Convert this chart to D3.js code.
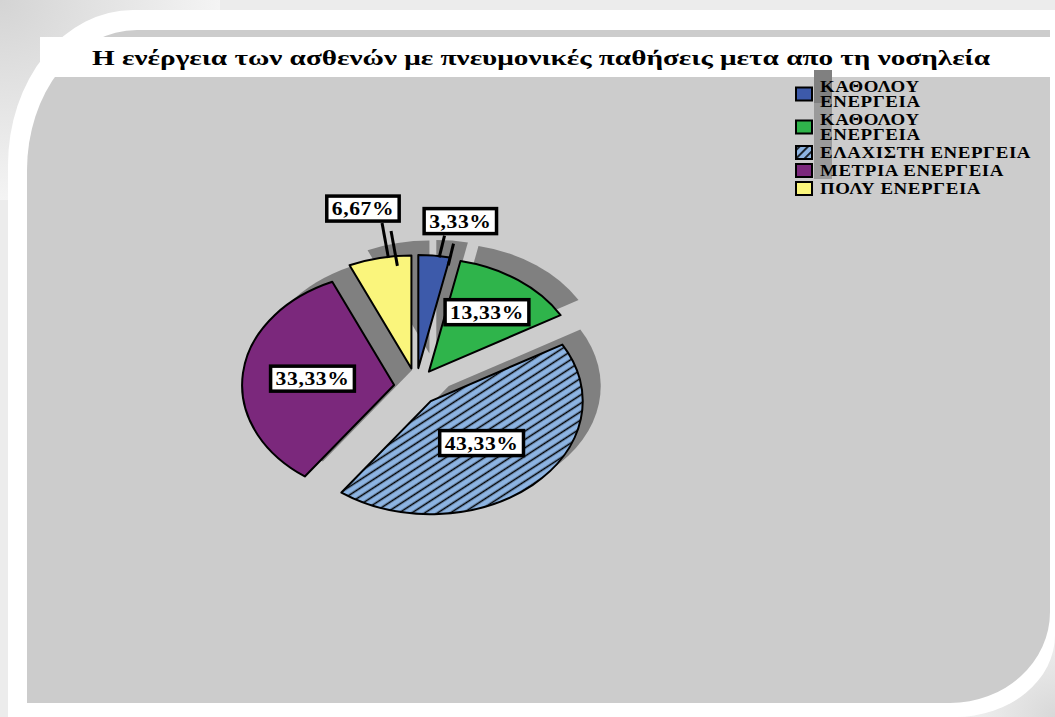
<!DOCTYPE html>
<html>
<head>
<meta charset="utf-8">
<script src="https://cdn.jsdelivr.net/npm/d3@7"></script>
<style>
    body { margin: 0; background: #fff; }
    svg { display: block; }
    text { font-family: "Liberation Serif", "Times New Roman", serif; font-weight: bold; fill: #000; }
</style>
</head>
<body>
<div id="chart"></div>
<script>
const title = "Η ενέργεια των ασθενών με πνευμονικές παθήσεις μετα απο τη νοσηλεία";
const categories = ["ΚΑΘΟΛΟΥ\nΕΝΕΡΓΕΙΑ", "ΚΑΘΟΛΟΥ\nΕΝΕΡΓΕΙΑ", "ΕΛΑΧΙΣΤΗ ΕΝΕΡΓΕΙΑ", "ΜΕΤΡΙΑ ΕΝΕΡΓΕΙΑ", "ΠΟΛΥ ΕΝΕΡΓΕΙΑ"];
const values = [3.33, 13.33, 43.33, 33.33, 6.67];
const valueLabels = ["3,33%", "13,33%", "43,33%", "33,33%", "6,67%"];

const colors = ["#3d5aaa", "#2fb44b", "url(#hatch)", "#7b287c", "#faf57c"];
const legendColors = ["#3d5aaa", "#2fb44b", "url(#hatchSmall)", "#7b287c", "#faf57c"];

const width = 1055, height = 717;

// pie geometry (elliptical, exploded slices)
const cx = 416, cy = 387, rx = 152, ry = 113;
const explodeX = 22, explodeY = 19;
const shadowDx = 18, shadowDy = -15;

// the original picture is stretched sideways, text too
const textStretch = 1.2;

// label placement: angle (deg, null = slice middle) and radius factor
const labelPlace = [
    { a: 12, r: 1.33, leader: 8 },
    { a: null, r: 0.65 },
    { a: null, r: 0.5 },
    { a: null, r: 0.54 },
    { a: -12.7, r: 1.45, leader: -8.8 }
];

const svg = d3.select("#chart").append("svg")
    .attr("width", width)
    .attr("height", height);

const defs = svg.append("defs");

const hatch = defs.append("pattern")
    .attr("id", "hatch")
    .attr("patternUnits", "userSpaceOnUse")
    .attr("width", 7).attr("height", 7)
    .attr("patternTransform", "rotate(-33)");
hatch.append("rect").attr("width", 7).attr("height", 7).attr("fill", "#8db4e2");
hatch.append("line").attr("x1", 0).attr("x2", 7).attr("y1", 3.5).attr("y2", 3.5)
    .attr("stroke", "#000").attr("stroke-width", 1.6);

const hatchSmall = defs.append("pattern")
    .attr("id", "hatchSmall")
    .attr("patternUnits", "userSpaceOnUse")
    .attr("width", 6).attr("height", 6)
    .attr("patternTransform", "rotate(-45)");
hatchSmall.append("rect").attr("width", 6).attr("height", 6).attr("fill", "#8db4e2");
hatchSmall.append("line").attr("x1", 0).attr("x2", 6).attr("y1", 3).attr("y2", 3)
    .attr("stroke", "#000").attr("stroke-width", 1.6);

const tl = defs.append("radialGradient").attr("id", "cornerTL")
    .attr("cx", 0).attr("cy", 0).attr("r", 1);
tl.append("stop").attr("offset", "0%").attr("stop-color", "#d4d4d4");
tl.append("stop").attr("offset", "100%").attr("stop-color", "#f4f4f4");

const br = defs.append("radialGradient").attr("id", "cornerBR")
    .attr("cx", 1).attr("cy", 1).attr("r", 1);
br.append("stop").attr("offset", "0%").attr("stop-color", "#d8d8d8");
br.append("stop").attr("offset", "100%").attr("stop-color", "#fafafa");

function stretch(sel, factor) {
    const w = sel.node().getComputedTextLength();
    sel.attr("textLength", w * factor).attr("lengthAdjust", "spacingAndGlyphs");
    return w * factor;
}

// frame background
svg.append("rect").attr("width", width).attr("height", height).attr("fill", "#ececec");
svg.append("rect").attr("width", 220).attr("height", 200).attr("fill", "url(#cornerTL)");
svg.append("rect").attr("x", 935).attr("y", 600).attr("width", 120).attr("height", 117).attr("fill", "url(#cornerBR)");

svg.append("path")
    .attr("fill", "#fff")
    .attr("d", "M8,717 L8,165 A125,155 0 0 1 133,10 L1055,10 L1055,635 A100,82 0 0 1 955,717 Z");

// plot area
svg.append("path")
    .attr("fill", "#cccccc")
    .attr("d", "M27,703 L27,170 A110,140 0 0 1 137,30 L1050,30 L1050,612 A100,91 0 0 1 950,703 Z");

// title box
svg.append("rect").attr("x", 40).attr("y", 37).attr("width", 1010).attr("height", 40).attr("fill", "#fff");

svg.append("text")
    .attr("x", 541).attr("y", 65)
    .attr("text-anchor", "middle")
    .attr("font-size", 21)
    .attr("textLength", 898)
    .attr("lengthAdjust", "spacingAndGlyphs")
    .text(title);

// odd shadow block behind legend
svg.append("rect").attr("x", 814).attr("y", 70).attr("width", 18).attr("height", 33).attr("fill", "#808080");
svg.append("rect").attr("x", 814).attr("y", 103).attr("width", 18).attr("height", 76).attr("fill", "#9a9a9a");

// pie
const arcs = d3.pie().sort(null).value(d => d)(values);

function origin(d) {
    const m = (d.startAngle + d.endAngle) / 2;
    return [cx + explodeX * Math.sin(m), cy - explodeY * Math.cos(m)];
}
function pt(o, a, f = 1) {
    return [o[0] + rx * f * Math.sin(a), o[1] - ry * f * Math.cos(a)];
}
function slicePath(d) {
    const o = origin(d);
    const p0 = pt(o, d.startAngle), p1 = pt(o, d.endAngle);
    const large = d.endAngle - d.startAngle > Math.PI ? 1 : 0;
    return `M${o[0]},${o[1]} L${p0[0]},${p0[1]} A${rx},${ry} 0 ${large} 1 ${p1[0]},${p1[1]} Z`;
}

svg.append("g")
    .attr("transform", `translate(${shadowDx},${shadowDy})`)
    .selectAll("path")
    .data(arcs)
    .enter().append("path")
    .attr("d", slicePath)
    .attr("fill", "#808080");

svg.append("g")
    .selectAll("path")
    .data(arcs)
    .enter().append("path")
    .attr("d", slicePath)
    .attr("fill", (d, i) => colors[i])
    .attr("stroke", "#000")
    .attr("stroke-width", 2)
    .attr("stroke-linejoin", "round");

const rad = Math.PI / 180;
const boxH = 25;

// leader lines (double)
arcs.forEach((d, i) => {
    const lp = labelPlace[i];
    if (lp.leader === undefined) return;
    const o = origin(d);
    const c = pt(o, lp.a * rad, lp.r);
    const end = pt(o, lp.leader * rad, 0.99);
    const start = [end[0] + (c[0] - end[0]) * 0.25, c[1] + boxH / 2 + 2];
    [0, 1].forEach(k => {
        svg.append("line")
            .attr("x1", start[0] + k * 9).attr("y1", start[1] + k * 8)
            .attr("x2", end[0] + k * 9).attr("y2", end[1] + k * 8)
            .attr("stroke", "#000").attr("stroke-width", 3);
    });
});

// value labels
const labels = svg.append("g");
arcs.forEach((d, i) => {
    const lp = labelPlace[i];
    const m = lp.a === null ? (d.startAngle + d.endAngle) / 2 : lp.a * rad;
    const c = pt(origin(d), m, lp.r);
    const g = labels.append("g").attr("transform", `translate(${c[0]},${c[1]})`);
    const box = g.append("rect");
    const t = g.append("text")
        .attr("text-anchor", "middle")
        .attr("y", 6.5)
        .attr("font-size", 18)
        .attr("letter-spacing", 0.5)
        .text(valueLabels[i]);
    const w = stretch(t, textStretch) + 10;
    box.attr("x", -w / 2).attr("y", -boxH / 2).attr("width", w).attr("height", boxH)
        .attr("fill", "#fff").attr("stroke", "#000").attr("stroke-width", 3.5);
});

// legend
const legend = svg.append("g");
let baseline = 92;
categories.forEach((c, i) => {
    const lines = c.split("\n");
    const bases = lines.map((_, k) => baseline + k * 15);
    const mid = d3.mean(bases) - 5;
    legend.append("rect")
        .attr("x", 796).attr("y", mid - 7)
        .attr("width", 16).attr("height", 13)
        .attr("fill", legendColors[i])
        .attr("stroke", "#000").attr("stroke-width", 2);
    lines.forEach((ln, k) => {
        const t = legend.append("text")
            .attr("x", 820).attr("y", bases[k])
            .attr("font-size", 16)
            .attr("letter-spacing", 0.5)
            .text(ln);
        stretch(t, 1.18);
    });
    baseline = bases[bases.length - 1] + 18;
});
</script>
</body>
</html>
